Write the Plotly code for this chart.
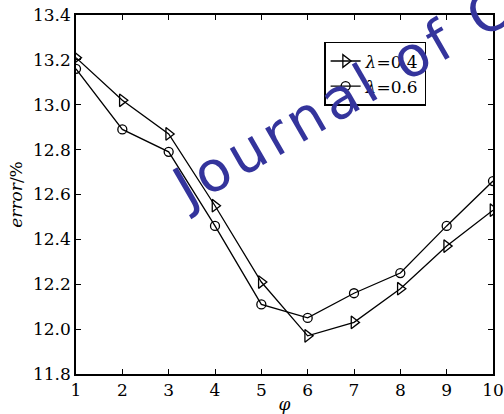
import plotly.graph_objects as go

phi = [1, 2, 3, 4, 5, 6, 7, 8, 9, 10]
err_l04 = [13.21, 13.02, 12.87, 12.55, 12.21, 11.97, 12.03, 12.18, 12.37, 12.53]
err_l06 = [13.16, 12.89, 12.79, 12.46, 12.11, 12.05, 12.16, 12.25, 12.46, 12.66]
y_ticks = [11.8, 12.0, 12.2, 12.4, 12.6, 12.8, 13.0, 13.2, 13.4]
x_ticks = phi

fig = go.Figure()
fig.add_trace(go.Scatter(
    x=phi, y=err_l04, mode="lines+markers", name="<i>λ</i>=0.4",
    line=dict(color="black", width=1.3),
    marker=dict(symbol="triangle-right-open", size=11, color="black", line=dict(width=1.3)),
))
fig.add_trace(go.Scatter(
    x=phi, y=err_l06, mode="lines+markers", name="<i>λ</i>=0.6",
    line=dict(color="black", width=1.3),
    marker=dict(symbol="circle-open", size=9, color="black", line=dict(width=1.3)),
))

axis_font = dict(family="DejaVu Serif", size=17, color="black")
fig.update_layout(
    width=504, height=414,
    margin=dict(l=76, r=11, t=15, b=40),
    paper_bgcolor="white", plot_bgcolor="white",
    showlegend=True,
    legend=dict(
        x=0.595, y=0.925, xanchor="left", yanchor="top",
        bgcolor="white", bordercolor="black", borderwidth=1.5,
        font=dict(family="DejaVu Serif", size=17, color="black"),
        tracegroupgap=0, itemwidth=30,
    ),
    xaxis=dict(
        range=[1, 10], tickmode="array", tickvals=x_ticks,
        ticks="inside", ticklen=5, tickwidth=1.2, tickcolor="black",
        showline=True, linecolor="black", linewidth=1.5, mirror="ticks",
        showgrid=False, zeroline=False, tickfont=axis_font, automargin=False,
        title=dict(text="<i>φ</i>", font=dict(family="DejaVu Serif", size=17, color="black"), standoff=0),
    ),
    yaxis=dict(
        range=[11.8, 13.4], tickmode="array", tickvals=y_ticks,
        tickformat=".1f",
        ticks="inside", ticklen=5, tickwidth=1.2, tickcolor="black",
        showline=True, linecolor="black", linewidth=1.5, mirror="ticks",
        showgrid=False, zeroline=False, tickfont=axis_font, automargin=False,
        title=dict(text="<i>error</i>/%", font=dict(family="DejaVu Serif", size=17, color="black"), standoff=6),
    ),
)

fig.add_annotation(
    text='<span style="letter-spacing:5px">Journal of C</span>',
    xref="paper", yref="paper", x=0.639, y=0.774,
    xanchor="center", yanchor="middle", showarrow=False, textangle=-30,
    font=dict(family="DejaVu Sans", size=56, color="#34349c"),
)

fig.write_html(
    "out.html",
    config={"displayModeBar": False},
    post_script="document.body.style.margin='0';document.body.style.padding='0';",
)
